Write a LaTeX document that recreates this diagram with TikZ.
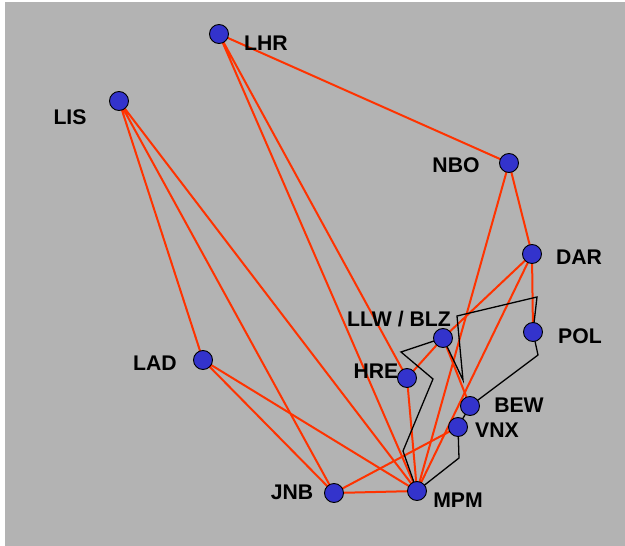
\documentclass[tikz,border=0pt]{standalone}
\usepackage{fontspec}
\setmainfont{Liberation Sans}
\definecolor{bggray}{RGB}{179,179,179}
\definecolor{routered}{RGB}{255,51,0}
\definecolor{dotblue}{RGB}{51,51,204}

\begin{document}
\begin{tikzpicture}[x=1pt,y=-1pt,
  airport/.style={circle,draw=black,line width=0.9pt,fill=dotblue,minimum size=19pt,inner sep=0pt},
  route/.style={routered,line width=2pt},
  link/.style={black,line width=1.3pt},
  code/.style={font=\bfseries\fontsize{21.2}{25}\selectfont,inner sep=0pt}]
\useasboundingbox (0,0) rectangle (625,546);
\fill[bggray] (5,2) rectangle (625,546);
% airports
\coordinate (lhr) at (219,34);
\coordinate (lis) at (119,101);
\coordinate (nbo) at (509,163);
\coordinate (dar) at (532,254);
\coordinate (pol) at (533,332);
\coordinate (llw) at (443,338);
\coordinate (hre) at (407,378);
\coordinate (lad) at (203,360);
\coordinate (bew) at (470,406);
\coordinate (vnx) at (458,427);
\coordinate (jnb) at (334,493);
\coordinate (mpm) at (417,491);
% bends of the black line
\coordinate (b1) at (403,451);
\coordinate (b2) at (433,379);
\coordinate (b3) at (401,352);
\coordinate (b4) at (463,380);
\coordinate (b5) at (457,316);
\coordinate (b6) at (537,297);
\coordinate (b7) at (538,355);
\coordinate (b8) at (459,458);
% routes
\draw[route] (lhr) -- (nbo) (lhr) -- (hre) (lhr) -- (mpm);
\draw[route] (lis) -- (lad) (lis) -- (jnb) (lis) -- (mpm);
\draw[route] (lad) -- (jnb) (lad) -- (mpm);
\draw[route] (jnb) -- (mpm) (jnb) -- (vnx);
\draw[route] (nbo) -- (dar) (nbo) -- (mpm);
\draw[route] (dar) -- (pol) (dar) -- (llw) (dar) -- (mpm);
\draw[route] (llw) -- (hre) (llw) -- (bew) (hre) -- (mpm);
\draw[link] (mpm) -- (b1) -- (b2) -- (b3) -- (llw) -- (b4) -- (b5) -- (b6) -- (pol) -- (b7) -- (bew) -- (vnx) -- (b8) -- (mpm);
% dots
\foreach \a in {lhr,lis,nbo,dar,pol,llw,hre,lad,bew,vnx,jnb,mpm}
  \node[airport] (\a-dot) at (\a) {};
% labels
\node[code] (lhr-l) at (266,43) {LHR};
\node[code] (lis-l) at (70,117) {LIS};
\node[code] (nbo-l) at (456,165) {NBO};
\node[code] (dar-l) at (579,257) {DAR};
\node[code] (pol-l) at (580,336) {POL};
\node[code] (llw-l) at (399,319) {LLW / BLZ};
\node[code] (hre-l) at (376,371) {HRE};
\node[code] (lad-l) at (155,363) {LAD};
\node[code] (bew-l) at (519,405) {BEW};
\node[code] (vnx-l) at (497,430) {VNX};
\node[code] (jnb-l) at (292,492) {JNB};
\node[code] (mpm-l) at (458,500) {MPM};
\end{tikzpicture}
\end{document}
